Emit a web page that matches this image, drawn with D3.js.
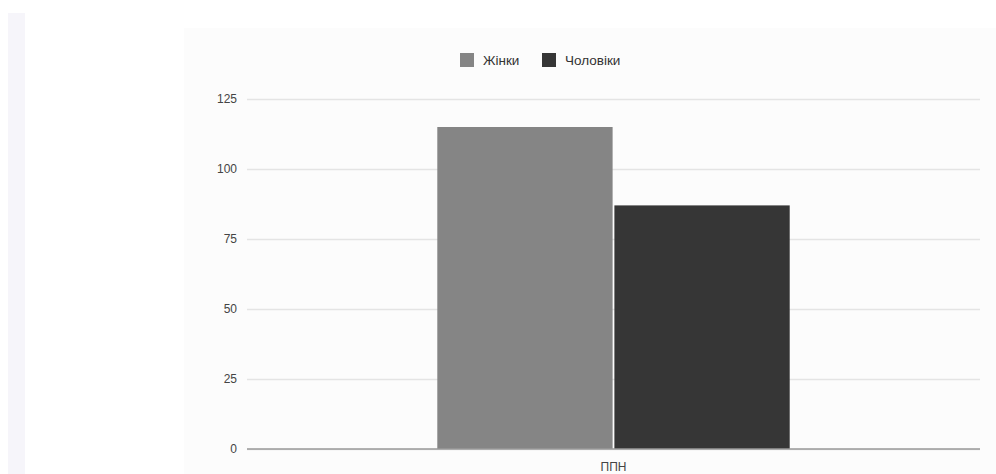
<!DOCTYPE html>
<html>
<head>
<meta charset="utf-8">
<script src="https://cdn.jsdelivr.net/npm/d3@7"></script>
<style>
  html, body { margin: 0; padding: 0; background: #ffffff; }
  svg { display: block; font-family: "Liberation Sans", Arial, sans-serif; }
</style>
</head>
<body>
<svg id="chart" width="996" height="474"></svg>
<script>
// Categories, series and axis ticks
const categories = ["ППН"];
const seriesNames = ["Жінки", "Чоловіки"];
const seriesColors = ["#858585", "#363636"];
const womenValues = [115];
const menValues = [87];
const yTicks = [0, 25, 50, 75, 100, 125];

const svg = d3.select("#chart");
const W = 996, H = 474;

// Page side strip and chart panel
svg.append("rect").attr("x", 8).attr("y", 13).attr("width", 17).attr("height", H - 13)
  .attr("fill", "#f6f5fa");
svg.append("rect").attr("x", 184).attr("y", 28).attr("width", W - 184).attr("height", H - 28)
  .attr("fill", "#fcfcfc");

const plot = { left: 247, right: 980, top: 99, bottom: 449 };

const y = d3.scaleLinear().domain([0, 125]).range([plot.bottom, plot.top]);
const x0 = d3.scaleBand().domain(categories).range([plot.left, plot.right])
  .paddingInner(0).paddingOuter(0.54);
const x1 = d3.scaleBand().domain(seriesNames).range([0, x0.bandwidth()]).paddingInner(0.01);

// Horizontal gridlines with value labels
const yAxis = d3.axisLeft(y).tickValues(yTicks).tickSize(-(plot.right - plot.left)).tickPadding(10);
const gy = svg.append("g").attr("transform", `translate(${plot.left},0)`).call(yAxis);
gy.select(".domain").remove();
gy.selectAll(".tick line").attr("stroke", "#e4e4e4").attr("stroke-width", 1.5);
gy.selectAll(".tick text").attr("fill", "#444").attr("font-size", 12);

// Bars
const rows = categories.map((c, i) => ({ cat: c, vals: [womenValues[i], menValues[i]] }));
const g = svg.append("g");
rows.forEach(r => {
  r.vals.forEach((v, j) => {
    g.append("rect")
      .attr("x", x0(r.cat) + x1(seriesNames[j]))
      .attr("y", y(v))
      .attr("width", x1.bandwidth())
      .attr("height", y(0) - y(v))
      .attr("fill", seriesColors[j]);
  });
});

// Baseline
svg.append("line").attr("x1", plot.left).attr("x2", plot.right)
  .attr("y1", y(0)).attr("y2", y(0)).attr("stroke", "#9a9a9a").attr("stroke-width", 1.5);

// Category axis labels
const xAxis = d3.axisBottom(x0).tickSize(0).tickPadding(13);
const gx = svg.append("g").attr("transform", `translate(0,${plot.bottom})`).call(xAxis);
gx.select(".domain").remove();
gx.selectAll(".tick text").attr("fill", "#444").attr("font-size", 12);

// Legend
const legend = svg.append("g").attr("transform", "translate(460,53)");
const items = [{ name: seriesNames[0], x: 0 }, { name: seriesNames[1], x: 82 }];
items.forEach((it, j) => {
  legend.append("rect").attr("x", it.x).attr("y", 0).attr("width", 14).attr("height", 14)
    .attr("fill", seriesColors[j]);
  legend.append("text").attr("x", it.x + 23).attr("y", 12)
    .attr("font-size", 13.5).attr("fill", "#333").text(it.name);
});
</script>
</body>
</html>
